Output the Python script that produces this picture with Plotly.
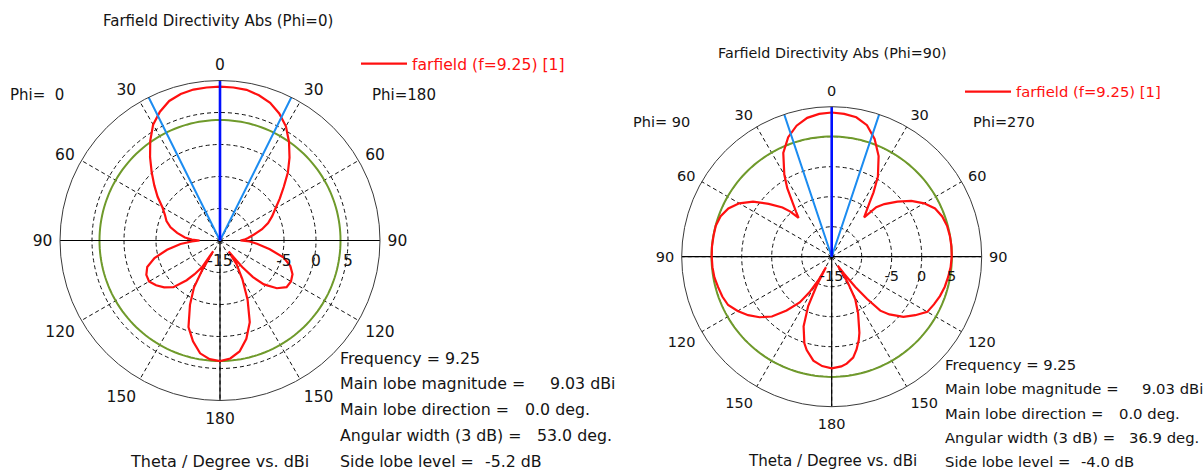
import plotly.graph_objects as go

# ---------------------------------------------------------------------------
# Farfield directivity cuts at f = 9.25 (theta in degrees, directivity in dBi)
# ---------------------------------------------------------------------------
FREQ = 9.25

# Phi = 0 cut (drawn on the left half of the first chart)
THETA_PHI0 = [0, 5, 10, 15, 20, 25, 30, 35, 40, 45, 50, 55, 60, 65, 70, 75, 80, 85, 88, 90,
              92, 95, 100, 105, 110, 115, 120, 125, 130, 135, 140, 143, 146, 147.5, 149, 151,
              155, 160, 165, 170, 175, 180]
DBI_PHI0 = [9.03, 9.0, 8.95, 8.7, 8.2, 7.2, 5.9, 4.0, 2.0, 0.1, -1.6, -3.1, -4.6, -5.5, -6.1, -7.0,
            -8.2, -9.5, -10.6, -11.8, -10.6, -8.8, -6.6, -4.4, -2.9, -2.3, -2.2, -2.8, -3.6, -4.7,
            -6.9, -8.4, -10.0, -13.0, -9.5, -6.6, -3.9, -0.6, 1.3, 2.9, 3.6, 3.83]

# Phi = 180 cut (right half of the first chart)
THETA_PHI180 = [0, 5, 10, 15, 20, 25, 30, 35, 40, 45, 50, 55, 60, 65, 70, 75, 80, 85, 88, 90,
                92, 95, 100, 105, 110, 115, 120, 125, 130, 135, 138, 140, 142, 145, 150, 155,
                160, 165, 170, 175, 180]
DBI_PHI180 = [9.03, 9.0, 8.9, 8.5, 7.9, 6.9, 5.6, 3.8, 1.9, 0.0, -2.0, -3.6, -5.0, -6.0, -7.0, -8.2,
              -9.6, -10.6, -11.2, -11.8, -10.4, -9.2, -7.1, -4.7, -3.3, -2.5, -2.2, -2.3, -3.4,
              -5.3, -7.3, -9.6, -12.8, -10.5, -8.0, -4.8, -1.4, 0.9, 2.6, 3.5, 3.83]

# Phi = 90 cut (left half of the second chart)
THETA_PHI90 = [0, 5, 10, 15, 20, 25, 30, 33, 36, 38.5, 40.5, 42.5, 45, 50, 55, 60, 65, 70, 75, 80,
               85, 90, 95, 100, 105, 110, 115, 120, 125, 130, 135, 140, 145, 148, 150.5, 151.5,
               152.5, 154.5, 158, 162.5, 165, 170, 175, 180]
DBI_PHI90 = [9.03, 8.9, 8.5, 7.6, 6.2, 4.1, 0.8, -1.4, -4.0, -5.5, -6.5, -4.8, -3.4, -1.3, 1.0, 2.8,
             4.0, 4.7, 5.0, 5.0, 5.03, 5.0, 4.95, 4.85, 4.6, 4.4, 4.05, 3.1, 2.0, 0.7, -0.9, -3.3,
             -5.7, -8.0, -10.5, -13.0, -9.5, -5.9, -2.5, 0.15, 1.1, 2.6, 3.3, 3.6]

# Phi = 270 cut (right half of the second chart)
THETA_PHI270 = [0, 5, 10, 15, 20, 25, 30, 33, 35, 39.5, 42, 45, 50, 55, 60, 65, 70, 75, 80, 85, 90,
                95, 100, 105, 110, 115, 120, 125, 130, 135, 138, 140, 142, 144, 146, 148, 151, 155,
                160, 162, 165, 168, 172, 175, 180]
DBI_PHI270 = [9.03, 8.9, 8.6, 7.7, 5.9, 3.5, 0.4, -2.2, -4.0, -6.5, -3.9, -2.6, -0.7, 1.2, 2.8, 4.0,
              4.6, 4.9, 5.0, 5.03, 5.0, 4.9, 4.7, 4.5, 4.2, 3.8, 3.4, 2.0, 0.6, -1.4, -2.9, -5.8,
              -8.6, -11.5, -13.2, -10.0, -6.9, -4.6, -1.5, -0.4, 1.0, 2.2, 3.0, 3.35, 3.6]

# Summary values for each cut (Phi=0 chart, Phi=90 chart)
MAIN_LOBE_DBI = [9.03, 9.03]
MAIN_LOBE_DIR = [0.0, 0.0]
ANGULAR_WIDTH_3DB = [53.0, 36.9]
SIDE_LOBE_LEVEL = [-5.2, -4.0]

CUT_TITLES = ["Farfield Directivity Abs (Phi=0)", "Farfield Directivity Abs (Phi=90)"]
SIDE_LABELS = [("Phi=\u00a0\u00a00", "Phi=180"), ("Phi=\u00a090", "Phi=270")]
LEGEND_NAME = "farfield (f=9.25) [1]"

THETA_TICKS = [0, 30, 60, 90, 120, 150, 180, 210, 240, 270, 300, 330]
THETA_TICK_TEXT = ["0", "30", "60", "90", "120", "150", "180", "150", "120", "90", "60", "30"]
R_TICKS = [-15, -10, -5, 0, 5]
R_TICK_TEXT = ["-15", "", "-5", "0", "5"]
R_MIN, R_MAX = -15, 10

W, H = 1204, 471
FONT = "DejaVu Sans, Verdana, sans-serif"
INK = "#141414"
RED = "#ff1010"
GREEN = "#6f9a2b"
BLUE = "#0010ff"
LIGHT_BLUE = "#1c8cf0"


def full_cut(theta_right, db_right, theta_left, db_left):
    """Join the two half-cuts into one closed polar curve (clockwise from the top)."""
    ang = list(theta_right) + [360 - t for t in reversed(theta_left)]
    val = list(db_right) + list(reversed(db_left))
    return ang, val


def polar_box(cx, cy, rad):
    return dict(x=[(cx - rad) / W, (cx + rad) / W], y=[1 - (cy + rad) / H, 1 - (cy - rad) / H])


def polar_layout(cx, cy, rad, fsize, rlen):
    return dict(
        domain=polar_box(cx, cy, rad),
        bgcolor="white",
        angularaxis=dict(
            rotation=90, direction="clockwise",
            tickmode="array", tickvals=THETA_TICKS, ticktext=THETA_TICK_TEXT,
            ticks="outside", ticklen=4, tickcolor="rgba(0,0,0,0)",
            tickfont=dict(family=FONT, size=fsize, color=INK),
            showline=True, linecolor="#3a3a3a", linewidth=1,
            showgrid=True, gridcolor="#111", gridwidth=1, griddash="4px,3px",
        ),
        radialaxis=dict(
            range=[R_MIN, R_MAX], angle=0, side="clockwise",
            tickmode="array", tickvals=R_TICKS, ticktext=R_TICK_TEXT, tickangle=0,
            ticks="outside", ticklen=rlen, tickcolor="rgba(0,0,0,0)",
            tickfont=dict(family=FONT, size=fsize, color=INK),
            showline=False, showgrid=True, gridcolor="#111", gridwidth=1, griddash="4px,3px",
        ),
    )


fig = go.Figure()

cuts = [
    full_cut(THETA_PHI180, DBI_PHI180, THETA_PHI0, DBI_PHI0),
    full_cut(THETA_PHI270, DBI_PHI270, THETA_PHI90, DBI_PHI90),
]

for i, (ang, val) in enumerate(cuts):
    sub = "polar" if i == 0 else "polar2"
    leg = "legend" if i == 0 else "legend2"
    sll = MAIN_LOBE_DBI[i] + SIDE_LOBE_LEVEL[i]
    half = ANGULAR_WIDTH_3DB[i] / 2
    d = MAIN_LOBE_DIR[i]

    # side lobe level circle
    circ = list(range(0, 361, 2))
    fig.add_trace(go.Scatterpolar(r=[sll] * len(circ), theta=circ, mode="lines",
                                  line=dict(color=GREEN, width=2), subplot=sub,
                                  showlegend=False, hoverinfo="skip"))
    # solid theta = 90 / 180 reference axes
    fig.add_trace(go.Scatterpolar(r=[R_MAX, R_MIN, R_MAX, None, R_MIN, R_MAX],
                                  theta=[270, 270, 90, None, 180, 180], mode="lines",
                                  line=dict(color="#000", width=1.2), subplot=sub,
                                  connectgaps=False, showlegend=False, hoverinfo="skip"))
    # directivity pattern
    fig.add_trace(go.Scatterpolar(r=val, theta=ang, mode="lines", name=LEGEND_NAME,
                                  line=dict(color=RED, width=2.2), subplot=sub, legend=leg))
    # 3 dB angular width markers
    fig.add_trace(go.Scatterpolar(r=[R_MAX, R_MIN, R_MAX], theta=[d - half, d, d + half],
                                  mode="lines", line=dict(color=LIGHT_BLUE, width=2),
                                  subplot=sub, showlegend=False, hoverinfo="skip"))
    # main lobe direction
    fig.add_trace(go.Scatterpolar(r=[R_MIN, R_MAX], theta=[d, d], mode="lines",
                                  line=dict(color=BLUE, width=2.6), subplot=sub,
                                  showlegend=False, hoverinfo="skip"))


def label(x, y, text, size, color=INK):
    fig.add_annotation(x=x / W, y=1 - y / H, xref="paper", yref="paper", text=text,
                       showarrow=False, xanchor="left", yanchor="middle",
                       font=dict(family=FONT, size=size, color=color))


# left chart texts
label(101, 21, CUT_TITLES[0], 15)
label(8, 95, SIDE_LABELS[0][0], 15)
label(370, 95, SIDE_LABELS[0][1], 15)
label(128, 461, "Theta / Degree vs. dBi", 16)
ys = [358, 383, 409, 435, 461]
S1 = 15.8
label(338, ys[0], f"Frequency = {FREQ}", S1)
label(338, ys[1], "Main lobe magnitude =", S1)
label(548, ys[1], f"{MAIN_LOBE_DBI[0]:.2f} dBi", S1)
label(338, ys[2], "Main lobe direction =", S1)
label(523, ys[2], f"{MAIN_LOBE_DIR[0]:.1f} deg.", S1)
label(338, ys[3], "Angular width (3 dB) =", S1)
label(535, ys[3], f"{ANGULAR_WIDTH_3DB[0]:.1f} deg.", S1)
label(338, ys[4], "Side lobe level =", S1)
label(483, ys[4], f"{SIDE_LOBE_LEVEL[0]:.1f} dB", S1)

# right chart texts
label(716, 53, CUT_TITLES[1], 14.3)
label(631, 122, SIDE_LABELS[1][0], 14.5)
label(971, 122, SIDE_LABELS[1][1], 14.5)
label(746, 461, "Theta / Degree vs. dBi", 15.1)
ys2 = [364, 388, 413, 437, 461]
S2 = 14.8
label(943, ys2[0], f"Frequency = {FREQ}", S2)
label(943, ys2[1], "Main lobe magnitude =", S2)
label(1140, ys2[1], f"{MAIN_LOBE_DBI[1]:.2f} dBi", S2)
label(943, ys2[2], "Main lobe direction =", S2)
label(1117, ys2[2], f"{MAIN_LOBE_DIR[1]:.1f} deg.", S2)
label(943, ys2[3], "Angular width (3 dB) =", S2)
label(1127, ys2[3], f"{ANGULAR_WIDTH_3DB[1]:.1f} deg.", S2)
label(943, ys2[4], "Side lobe level =", S2)
label(1079, ys2[4], f"{SIDE_LOBE_LEVEL[1]:.1f} dB", S2)

fig.update_layout(
    width=W, height=H,
    margin=dict(l=0, r=0, t=0, b=0),
    paper_bgcolor="white",
    showlegend=True,
    polar=polar_layout(220, 240.5, 160, 15.5, 6),
    polar2=polar_layout(831.7, 256.7, 150, 14.5, 6),
    legend=dict(x=356 / W, y=1 - 64 / H, xanchor="left", yanchor="middle",
                bgcolor="rgba(0,0,0,0)", itemwidth=46,
                font=dict(family=FONT, size=15.6, color=RED)),
    legend2=dict(x=960 / W, y=1 - 92 / H, xanchor="left", yanchor="middle",
                 bgcolor="rgba(0,0,0,0)", itemwidth=46,
                 font=dict(family=FONT, size=14.8, color=RED)),
)

fig.write_html("out.html")
